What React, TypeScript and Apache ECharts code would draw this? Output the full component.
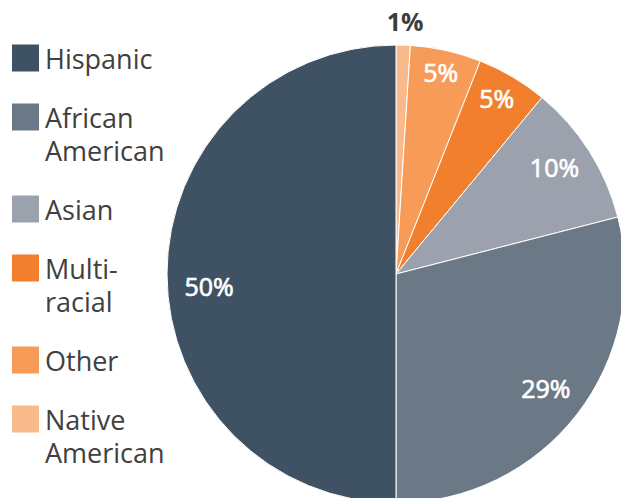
import React, { useEffect, useRef } from "react";
import * as echarts from "echarts";

// Slices in clockwise order from 12 o'clock
const categories = ["Native American", "Other", "Multi-racial", "Asian", "African American", "Hispanic"];
const values = [1, 5, 5, 10, 29, 50];
// Legend order and how each label wraps
const legendOrder = ["Hispanic", "African American", "Asian", "Multi-racial", "Other", "Native American"];
const legendLines: string[][] = [
  ["Hispanic"],
  ["African", "American"],
  ["Asian"],
  ["Multi-", "racial"],
  ["Other"],
  ["Native", "American"],
];
const colors: Record<string, string> = {
  Hispanic: "#3f5264",
  "African American": "#6b7886",
  Asian: "#9ba2ad",
  "Multi-racial": "#f27f2d",
  Other: "#f79b59",
  "Native American": "#f9ba8b",
};
// label nudges (px) relative to the ring position, in slice order
const labelNudges: number[][] = [[3, -57], [2, -11], [1, -7], [-7, -2], [-5, -6], [9, 12]];

const FONT = "'Open Sans', 'Noto Sans', sans-serif";

// square icon placed at the top of a 27x60 box (two-line items) or centred (one-line items)
const ICON_TWO_LINES = "path://M0 0H27V27H0Z M0 60";
const ICON_ONE_LINE = "path://M0 0M0 16.5H27V43.5H0Z M0 60";

export default function App() {
  const ref = useRef<HTMLDivElement>(null);
  useEffect(() => {
    if (!ref.current) return;
    const chart = echarts.init(ref.current, undefined, { renderer: "svg" });
    const CX = 396, CY = 274, R = 229;

    const wrapped: Record<string, string> = {};
    legendOrder.forEach((n, i) => (wrapped[n] = legendLines[i].join("\n")));

    const mainData = categories.map((name, i) => ({
      name,
      value: values[i],
      itemStyle: { color: colors[name] },
    }));
    const labelData = categories.map((name, i) => ({
      name,
      value: values[i],
      label:
        values[i] < 2
          ? { color: "#3d3d3d", fontWeight: "bold", textBorderWidth: 0, offset: labelNudges[i] }
          : { offset: labelNudges[i] },
    }));

    chart.setOption({
      animation: false,
      legend: {
        show: true,
        orient: "vertical",
        left: 12,
        top: 28,
        padding: 0,
        itemGap: 12.5,
        itemWidth: 27,
        itemHeight: 60,
        selectedMode: false,
        data: legendOrder.map((name, i) => ({
          name,
          icon: legendLines[i].length > 1 ? ICON_TWO_LINES : ICON_ONE_LINE,
        })),
        formatter: (n: string) => wrapped[n] ?? n,
        itemStyle: { borderWidth: 0 },
        textStyle: { fontSize: 27, lineHeight: 33, color: "#404040", fontFamily: FONT, padding: [0, 0, 0, 1] },
      },
      series: [
        {
          type: "pie",
          center: [CX, CY],
          radius: [0, R],
          startAngle: 90,
          clockwise: true,
          avoidLabelOverlap: false,
          silent: true,
          label: { show: false },
          labelLine: { show: false },
          itemStyle: { borderColor: "#ffffff", borderWidth: 1 },
          data: mainData,
        },
        {
          type: "pie",
          center: [CX, CY],
          radius: [157, R],
          startAngle: 90,
          clockwise: true,
          avoidLabelOverlap: false,
          silent: true,
          itemStyle: { color: "rgba(0,0,0,0)", borderWidth: 0 },
          label: {
            show: true,
            position: "inside",
            formatter: "{c}%",
            color: "#ffffff",
            fontSize: 25,
            fontFamily: FONT,
            textBorderColor: "#ffffff",
            textBorderWidth: 0.7,
          },
          labelLine: { show: false },
          data: labelData,
        },
      ],
    });
    return () => chart.dispose();
  }, []);
  return (
    <div
      ref={ref}
      style={{ position: "fixed", left: 0, top: 0, width: 621, height: 498, background: "#ffffff" }}
    />
  );
}
